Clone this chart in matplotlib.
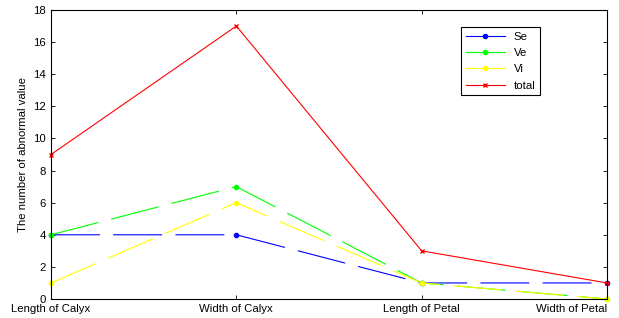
import numpy as np
import matplotlib
matplotlib.use("Agg")
import matplotlib.pyplot as plt

plt.rcParams['font.family'] = ['Liberation Sans', 'DejaVu Sans']

categories = ["Length of Calyx", "Width of Calyx", "Length of Petal", "Width of Petal"]
se = [4, 4, 1, 1]
ve = [4, 7, 1, 0]
vi = [1, 6, 1, 0]
total = [9, 17, 3, 1]

fig = plt.figure(figsize=(6.19, 3.18), dpi=100)
ax = fig.add_axes([0.0824, 0.0597, 0.8982, 0.9089])

x = np.arange(len(categories))
dash = (0, (44, 12))
ax.plot(x, se, color='#0000ff', marker='.', markersize=6, lw=0.8, linestyle=dash, label='Se', clip_on=False)
ax.plot(x, ve, color='#00ff00', marker='.', markersize=6, lw=0.8, linestyle=dash, label='Ve', clip_on=False)
ax.plot(x, vi, color='#ffff00', marker='.', markersize=6, lw=0.8, linestyle=dash, label='Vi', clip_on=False)
ax.plot(x, total, color='#ff0000', marker='x', markersize=3.5, lw=0.8, label='total', clip_on=False)

ax.set_xlim(0, 3)
ax.set_ylim(0, 18)
ax.set_xticks(x)
ax.set_xticklabels(categories, fontsize=8.2)
ax.get_xticklabels()[-1].set_horizontalalignment('right')
ax.set_yticks(np.arange(0, 19, 2))
ax.tick_params(axis='both', direction='in', top=True, right=True, labelsize=8.2, length=3, width=0.6)
ax.set_ylabel("The number of abnormal value", fontsize=8.2)
for s in ax.spines.values():
    s.set_linewidth(0.8)

leg = ax.legend(loc='upper left', bbox_to_anchor=(0.728, 0.96), fontsize=8.2, fancybox=False,
                edgecolor='black', framealpha=1, handlelength=3.4, borderpad=0.4, labelspacing=0.55)
leg.get_frame().set_linewidth(0.8)
for h in leg.get_lines():
    h.set_linestyle('-')

fig.savefig("out.png", dpi=100)
